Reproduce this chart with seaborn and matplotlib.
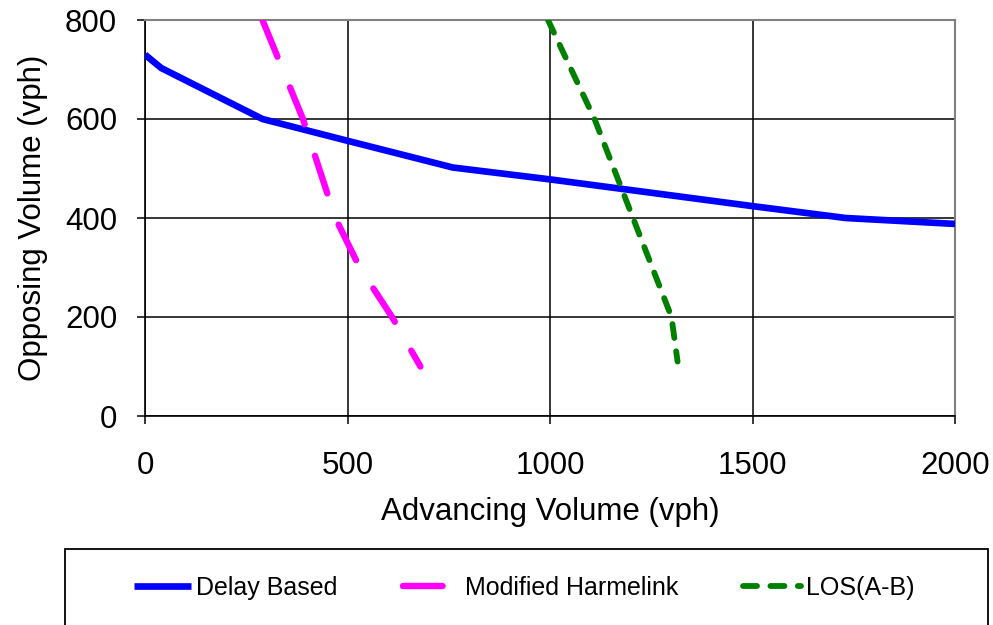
import matplotlib
matplotlib.use("Agg")
import matplotlib.pyplot as plt
import seaborn as sns
import pandas as pd
from matplotlib.patches import Rectangle

# Data
delay_x = [0, 40, 290, 500, 760, 1000, 1500, 1730, 2000]
delay_y = [730, 703, 600, 556, 502, 478, 424, 400, 388]

harm_x = [290, 390, 470, 530, 610, 680]
harm_y = [800, 600, 400, 300, 200, 100]

los_x = [995, 1110, 1205, 1300, 1315]
los_y = [800, 600, 400, 200, 110]

series_names = ["Delay Based", "Modified Harmelink", "LOS(A-B)"]
x_ticks = [0, 500, 1000, 1500, 2000]
y_ticks = [0, 200, 400, 600, 800]

df = pd.concat([
    pd.DataFrame({"x": delay_x, "y": delay_y, "s": series_names[0]}),
    pd.DataFrame({"x": harm_x, "y": harm_y, "s": series_names[1]}),
    pd.DataFrame({"x": los_x, "y": los_y, "s": series_names[2]}),
], ignore_index=True)

sns.set_theme(style="white")
plt.rcParams["font.family"] = ["Liberation Sans", "DejaVu Sans"]
plt.rcParams["text.color"] = "black"
plt.rcParams["axes.labelcolor"] = "black"
plt.rcParams["xtick.color"] = "black"
plt.rcParams["ytick.color"] = "black"

fig = plt.figure(figsize=(9.93, 6.25), dpi=100)
ax = fig.add_axes([145/993, 1-416/625, (955-145)/993, (416-20)/625])

colors = {"Delay Based": "#0000FF", "Modified Harmelink": "#FF00FF", "LOS(A-B)": "#008000"}
widths = {"Delay Based": 4.8, "Modified Harmelink": 4.6, "LOS(A-B)": 4.2}
dashes = {"Delay Based": "", "Modified Harmelink": (6.2, 5.2), "LOS(A-B)": (2.4, 2.3)}

for name in series_names:
    sub = df[df["s"] == name]
    sns.lineplot(data=sub, x="x", y="y", ax=ax, sort=False, color=colors[name],
                 lw=widths[name], label=name, legend=False, zorder=3,
                 dash_capstyle="round", solid_capstyle="butt")
    line = ax.lines[-1]
    if dashes[name]:
        line.set_dashes(dashes[name])

ax.set_xlim(0, 2000)
ax.set_ylim(0, 800)
ax.set_xticks(x_ticks)
ax.set_yticks(y_ticks)
ax.grid(True, color="black", lw=1.1)
ax.set_axisbelow(True)
for side in ["top", "right"]:
    ax.spines[side].set_color("#808080")
    ax.spines[side].set_linewidth(1.5)
for side in ["left", "bottom"]:
    ax.spines[side].set_color("black")
    ax.spines[side].set_linewidth(1.2)

ax.tick_params(axis="both", which="major", labelsize=22.5, length=6, width=1.1,
               color="black", labelcolor="black", direction="out", left=True, bottom=True)
ax.tick_params(axis="x", pad=19)
ax.tick_params(axis="y", pad=14)

ax.set_xlabel("Advancing Volume (vph)", fontsize=22.5, labelpad=12)
ax.set_ylabel("Opposing Volume (vph)", fontsize=22.5, labelpad=12)

# Legend box
rect = Rectangle((65/993, -0.2), (988-65)/993, 0.2 + (1-549/625), transform=fig.transFigure,
                 fill=False, edgecolor="black", lw=1.3)
fig.patches.append(rect)

handles = ax.lines[:3]
fig.legend(handles, series_names, loc="center", bbox_to_anchor=(524/993, 1-588/625),
           ncol=3, frameon=False, fontsize=18, handlelength=2.3, handletextpad=0.2,
           columnspacing=2.6)

fig.savefig("out.png", dpi=100)
